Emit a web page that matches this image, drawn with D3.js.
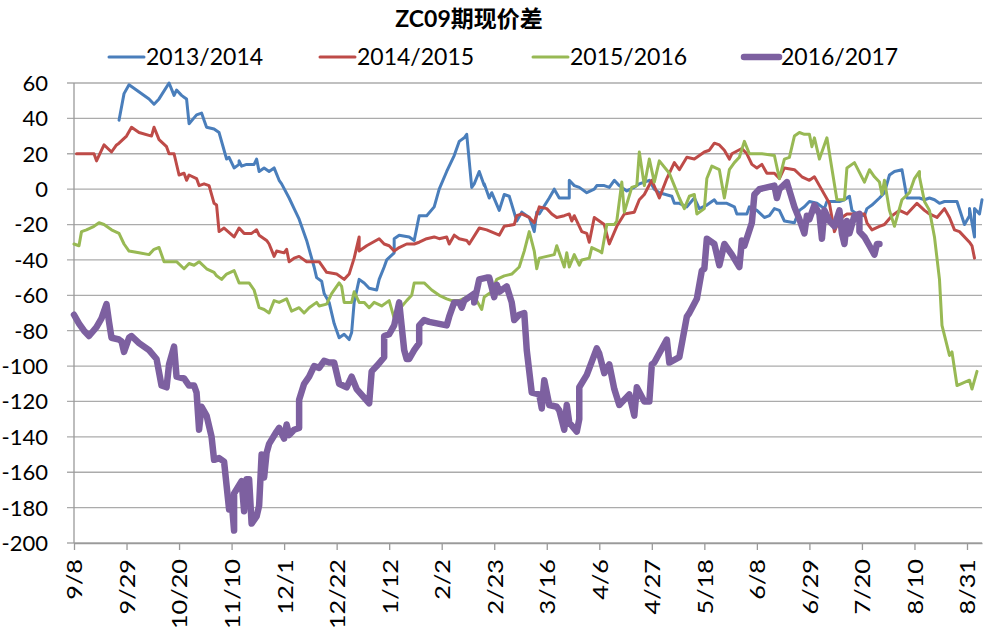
<!DOCTYPE html>
<html>
<head>
<meta charset="utf-8">
<script src="https://cdn.jsdelivr.net/npm/d3@7"></script>
<style>
  body { margin: 0; background: #fff; }
  text { font-family: Lato, "Noto Sans CJK SC", sans-serif; fill: #000; }
  .grid line { stroke: #ababab; stroke-width: 1.3; }
  .axis path, .axis line { stroke: #9a9a9a; stroke-width: 1.3; }
  .series { fill: none; stroke-linejoin: round; stroke-linecap: round; }
</style>
</head>
<body>
<div id="chart"></div>
<script>
// season start date; every point is [days since 9/8, spread]
var start = new Date(2016, 8, 8),
    tickLabels = ["9/8", "9/29", "10/20", "11/10", "12/1", "12/22", "1/12", "2/2", "2/23",
                  "3/16", "4/6", "4/27", "5/18", "6/8", "6/29", "7/20", "8/10", "8/31"],
    yTicks = [60, 40, 20, 0, -20, -40, -60, -80, -100, -120, -140, -160, -180, -200],
    seasons = ["2013/2014", "2014/2015", "2015/2016", "2016/2017"];

var s1314 = [[18,39],[20,54],[22,59],[30,51],[32,48],[34,51],[38,60],[40,53],[41,56],[43,53],[44,52],[45,51],
  [46,37],[49,42],[51,43],[52,39],[53,35],[56,34],[58,32],[60,22],[61,17],[62,18],[64,12],[66,14],[66,16],[67,13],
  [69,14],[72,14],[73,17],[74,10],[76,12],[78,10],[80,12],[82,5],[83,3],[86,-5],[88,-11],[90,-17],[93,-29],[96,-44],
  [97,-50],[99,-52],[100,-59],[102,-64],[104,-76],[106,-84],[108,-82],[110,-85],[111,-81],[112,-64],[114,-51],
  [116,-53],[118,-56],[121,-57],[122,-51],[124,-44],[125,-40],[128,-36],[128,-28],[130,-26],[134,-27],[136,-29],
  [138,-15],[141,-15],[144,-10],[146,0],[149,10],[152,19],[154,27],[156,29],[157,31],[159,1],[160,3],[162,10],
  [164,2],[164,3],[166,-5],[167,-2],[170,-12],[172,-3],[174,-4],[177,-18],[179,-13],[182,-16],[184,-24],[185,-13],
  [186,-14],[190,-5],[192,0],[194,-5],[198,-5],[198,5],[200,2],[202,1],[205,-2],[208,0],[209,2],[212,2],[214,1],
  [216,5],[218,2],[221,-1],[224,1],[226,3],[230,5],[232,0],[234,-2],[239,-4],[240,-8],[242,-8],[245,-10],[248,-5],
  [250,-11],[253,-9],[256,-6],[257,-8],[261,-8],[264,-10],[265,-14],[269,-14],[270,-10],[273,-12],[276,-16],
  [278,-15],[280,-11],[282,-12],[284,-18],[288,-19],[290,-12],[292,-10],[294,-7],[297,-8],[300,-11],[301,-7],
  [304,-7],[306,-7],[308,-6],[310,-4],[311,-12],[313,-14],[316,-15],[317,-11],[319,-9],[322,-5],[324,-2],[326,8],
  [328,10],[331,11],[332,3],[333,-5],[336,-5],[338,-5],[340,-6],[342,-5],[344,-6],[346,-8],[348,-7],[350,-7],
  [353,-7],[356,-20],[358,-15],[358,-11],[360,-27],[360,-11],[362,-14],[363,-6]];

var s1415 = [[1,20],[8,20],[9,16],[12,25],[15,21],[17,25],[18,26],[21,30],[23,35],[26,32],[31,30],[32,35],[34,28],
  [37,24],[38,20],[40,20],[42,8],[44,9],[45,5],[46,8],[49,6],[50,2],[52,3],[54,2],[56,-8],[57,-9],[58,-24],[60,-22],
  [64,-27],[66,-22],[68,-25],[71,-25],[73,-23],[74,-26],[77,-29],[78,-31],[80,-38],[81,-35],[84,-36],[85,-34],
  [86,-41],[88,-39],[90,-38],[93,-41],[98,-41],[101,-47],[105,-48],[108,-51],[110,-48],[112,-39],[114,-27],
  [114,-35],[117,-32],[122,-28],[124,-31],[126,-32],[128,-35],[130,-33],[133,-31],[136,-31],[138,-30],[141,-28],
  [144,-27],[146,-28],[149,-27],[150,-31],[152,-26],[154,-28],[157,-29],[158,-31],[162,-22],[165,-23],[170,-26],
  [172,-21],[176,-20],[177,-15],[179,-14],[182,-16],[184,-19],[186,-10],[189,-11],[191,-14],[193,-16],[196,-15],
  [198,-14],[199,-18],[200,-15],[203,-24],[205,-25],[206,-30],[208,-16],[212,-20],[214,-31],[217,-21],[220,-14],
  [224,-13],[226,-6],[228,-3],[231,5],[234,-5],[237,6],[240,15],[242,11],[245,18],[248,17],[252,21],[254,22],
  [256,26],[258,25],[260,22],[262,17],[263,20],[267,23],[269,20],[271,14],[273,12],[275,14],[277,9],[280,9],
  [282,6],[284,12],[288,11],[291,7],[294,5],[296,7],[298,2],[302,-8],[304,-24],[306,-17],[309,-14],[313,-14],
  [316,-14],[317,-19],[319,-23],[322,-21],[324,-20],[327,-15],[330,-12],[333,-14],[337,-8],[340,-12],[342,-14],
  [345,-16],[348,-11],[350,-16],[352,-23],[354,-24],[358,-30],[359,-32],[360,-39]];

var s1516 = [[0,-31],[2,-32],[3,-24],[5,-23],[8,-21],[10,-19],[12,-20],[15,-23],[18,-25],[20,-31],[22,-35],[26,-36],
  [30,-37],[32,-34],[34,-33],[36,-41],[41,-41],[44,-45],[46,-42],[48,-43],[50,-41],[53,-45],[56,-47],[57,-49],
  [59,-51],[61,-48],[64,-46],[66,-53],[70,-53],[72,-57],[74,-67],[76,-68],[78,-70],[80,-63],[82,-64],[85,-62],
  [87,-69],[90,-67],[92,-70],[94,-67],[97,-64],[98,-66],[101,-65],[103,-59],[106,-53],[107,-55],[108,-64],
  [111,-64],[112,-58],[114,-64],[116,-64],[118,-67],[120,-64],[123,-66],[126,-63],[128,-73],[130,-68],[133,-63],
  [135,-60],[136,-53],[140,-53],[143,-57],[146,-60],[149,-62],[151,-63],[154,-63],[157,-61],[160,-61],[161,-63],
  [163,-68],[164,-61],[167,-58],[169,-51],[172,-49],[175,-48],[178,-44],[180,-35],[182,-24],[184,-35],[185,-45],
  [186,-39],[189,-38],[192,-37],[193,-32],[196,-44],[197,-36],[198,-44],[200,-37],[202,-43],[203,-40],[206,-39],
  [207,-33],[210,-35],[211,-36],[213,-20],[216,-20],[217,-18],[219,4],[220,-13],[223,1],[225,2],[226,21],[228,2],
  [230,17],[232,4],[234,16],[238,9],[240,2],[242,-5],[244,-11],[246,-4],[248,-3],[249,-14],[252,-11],[253,6],
  [255,13],[258,11],[260,-5],[262,11],[264,15],[266,18],[268,27],[270,20],[273,20],[275,20],[280,19],[282,6],
  [284,17],[286,18],[288,30],[290,32],[292,31],[294,31],[295,24],[296,29],[298,17],[301,29],[305,-6],[308,-6],
  [309,12],[312,15],[316,4],[318,11],[320,7],[322,4],[323,-3],[324,5],[326,-12],[328,-21],[331,-6],[334,-2],
  [336,6],[338,10],[338,7],[340,-7],[342,-12],[344,-27],[346,-51],[347,-77],[350,-94],[351,-92],[353,-111],
  [358,-108],[359,-113],[361,-103]];

var s1617 = [[0,-71],[2,-76],[4,-80],[6,-83],[9,-78],[11,-73],[13,-65],[14,-75],[15,-84],[18,-85],[19,-86],[20,-92],
  [22,-84],[23,-83],[26,-87],[30,-91],[33,-96],[35,-111],[37,-112],[38,-99],[40,-89],[41,-106],[44,-107],[46,-111],
  [48,-111],[49,-115],[50,-136],[51,-123],[53,-128],[55,-140],[56,-153],[58,-152],[60,-154],[62,-181],[63,-176],
  [64,-193],[64,-172],[67,-165],[68,-182],[69,-164],[70,-164],[71,-189],[73,-185],[74,-179],[75,-150],[76,-163],
  [77,-149],[78,-144],[81,-137],[82,-135],[84,-141],[85,-133],[86,-139],[88,-136],[90,-135],[90,-119],[92,-110],
  [94,-106],[96,-100],[98,-101],[100,-97],[102,-98],[104,-98],[106,-110],[109,-112],[111,-106],[113,-113],
  [118,-121],[119,-103],[121,-100],[124,-95],[124,-83],[126,-82],[128,-77],[130,-64],[132,-91],[133,-96],
  [134,-96],[136,-91],[138,-87],[138,-77],[140,-74],[142,-75],[149,-77],[150,-72],[152,-64],[154,-64],[155,-67],
  [156,-63],[160,-59],[160,-64],[162,-51],[165,-50],[166,-50],[168,-61],[169,-54],[170,-58],[173,-55],[175,-64],
  [176,-74],[178,-71],[180,-70],[181,-91],[183,-115],[186,-116],[187,-124],[188,-108],[190,-122],[193,-123],
  [194,-125],[196,-136],[197,-122],[198,-132],[201,-137],[202,-130],[202,-112],[205,-105],[209,-90],[210,-93],
  [212,-104],[214,-99],[216,-113],[218,-122],[222,-116],[224,-128],[225,-112],[228,-120],[230,-120],[231,-99],
  [232,-98],[237,-85],[238,-98],[242,-95],[245,-72],[246,-70],[249,-62],[251,-46],[252,-45],[253,-28],[256,-31],
  [258,-43],[260,-31],[263,-37],[266,-44],[267,-29],[268,-32],[271,-19],[272,-3],[274,0],[277,1],[280,2],[281,-5],
  [282,0],[285,4],[288,-10],[290,-17],[292,-25],[293,-15],[294,-17],[296,-9],[298,-14],[299,-28],[300,-12],
  [302,-18],[304,-21],[306,-12],[307,-25],[308,-31],[309,-18],[310,-25],[312,-15],[314,-14],[314,-24],[316,-27],
  [318,-32],[320,-37],[321,-31],[322,-31]];

var seriesData = [s1314, s1415, s1516, s1617],
    colors = ["#4a7ebb", "#be4b48", "#98b954", "#7d60a0"],
    widths = [3, 3, 3, 6.5];

var W = 999, H = 628,
    margin = {top: 83, right: 17, bottom: 85, left: 74},
    width = W - margin.left - margin.right,
    height = H - margin.top - margin.bottom;

var day = function (n) { return d3.timeDay.offset(start, n); };

var x = d3.scaleTime()
        .domain([start, day(363.3)])
        .range([0, width]),
    y = d3.scaleLinear()
        .domain([-200, 60])
        .range([height, 0]);

var svg = d3.select("#chart").append("svg")
        .attr("width", W)
        .attr("height", H),
    g = svg.append("g")
        .attr("transform", "translate(" + margin.left + "," + margin.top + ")");

// title + legend
svg.append("text")
    .attr("x", 469).attr("y", 27)
    .attr("text-anchor", "middle")
    .style("font-size", "23px").style("font-weight", "bold")
    .text("ZC09期现价差");

var legendX = [109, 320, 533, 744];
var legend = svg.append("g").selectAll("g")
    .data(seasons)
    .enter().append("g")
    .attr("transform", function (d, i) { return "translate(" + legendX[i] + ",57)"; });
legend.append("line")
    .attr("x1", 0).attr("x2", 35)
    .attr("stroke", function (d, i) { return colors[i]; })
    .attr("stroke-width", function (d, i) { return widths[i]; })
    .attr("stroke-linecap", "round");
legend.append("text")
    .attr("x", 37).attr("dy", "0.36em")
    .style("font-size", "23px")
    .text(function (d) { return d; });

// horizontal grid with left ticks
g.append("g").attr("class", "grid")
    .selectAll("line")
    .data(yTicks)
    .enter().append("line")
    .attr("x1", -7).attr("x2", width)
    .attr("y1", function (d) { return y(d); })
    .attr("y2", function (d) { return y(d); });

g.append("g").selectAll("text")
    .data(yTicks)
    .enter().append("text")
    .attr("x", -26)
    .attr("y", function (d) { return y(d); })
    .attr("dy", "0.36em")
    .attr("text-anchor", "end")
    .style("font-size", "22px")
    .text(function (d) { return d; });

// y axis line
g.append("line")
    .attr("x1", 0).attr("x2", 0)
    .attr("y1", 0).attr("y2", height)
    .attr("stroke", "#9a9a9a").attr("stroke-width", 1.3);

// x axis
var xAxis = d3.axisBottom(x)
    .tickValues(tickLabels.map(function (d, i) { return day(i * 21); }))
    .tickFormat(function (d, i) { return tickLabels[i]; })
    .tickSize(7)
    .tickSizeOuter(0);

var gx = g.append("g")
    .attr("class", "axis")
    .attr("transform", "translate(0," + height + ")")
    .call(xAxis);
// labels are a little stretched along their length in the original
gx.selectAll("text")
    .style("font-size", "22px")
    .style("font-family", "Lato, sans-serif")
    .attr("text-anchor", "end")
    .attr("transform", "translate(0,16) rotate(-90) scale(1.15,1)")
    .attr("x", 0)
    .attr("y", 0)
    .attr("dy", "0.36em");

// series
var line = d3.line()
    .x(function (d) { return x(day(d[0])); })
    .y(function (d) { return y(d[1]); });

g.append("g").selectAll(".series")
    .data(seriesData)
    .enter().append("path")
    .attr("class", "series")
    .attr("stroke", function (d, i) { return colors[i]; })
    .attr("stroke-width", function (d, i) { return widths[i]; })
    .attr("d", line);
</script>
</body>
</html>
